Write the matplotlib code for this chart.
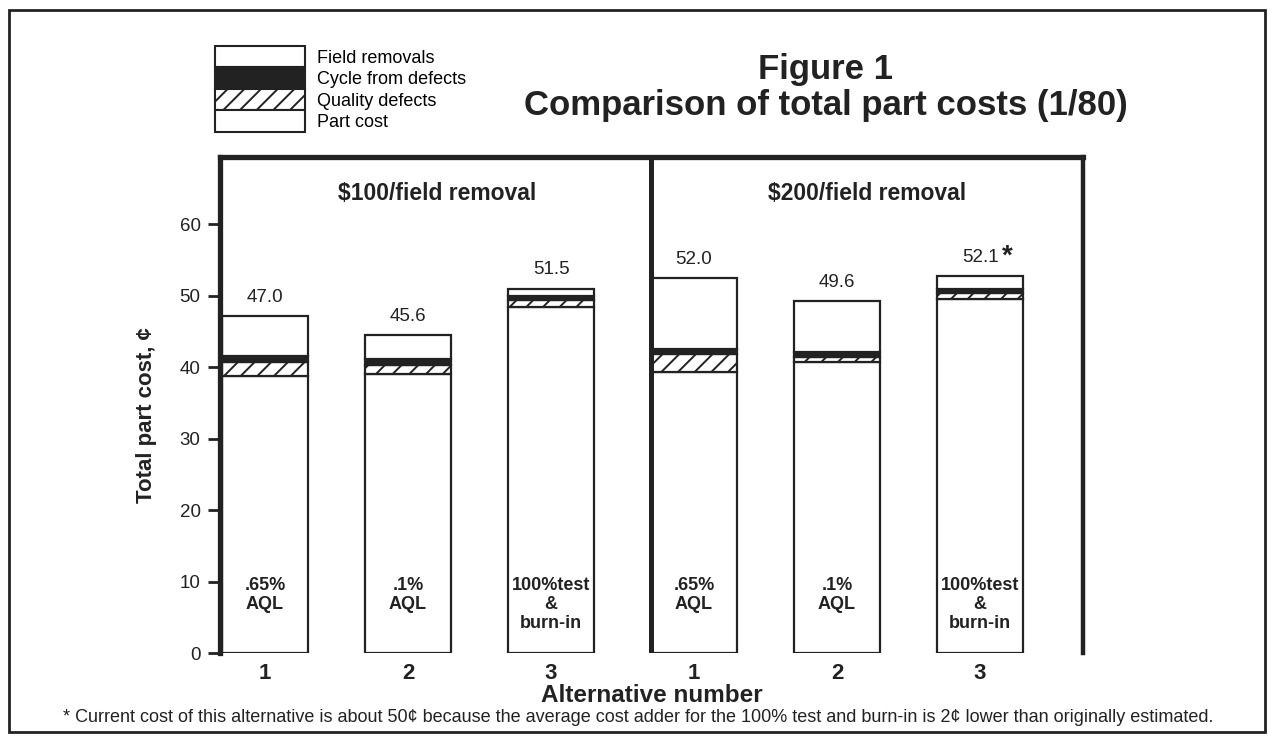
import matplotlib.pyplot as plt
from matplotlib.patches import Patch, Rectangle
import numpy as np

# Comparison of total part costs (1/80) - stacked bars, two panels
plt.rcParams['font.family'] = ['Liberation Sans', 'DejaVu Sans']
plt.rcParams['hatch.linewidth'] = 1.4

ink = '#222222'

alternatives = ['1', '2', '3', '1', '2', '3']
bar_notes = ['.65%\nAQL', '.1%\nAQL', '100%test\n&\nburn-in',
             '.65%\nAQL', '.1%\nAQL', '100%test\n&\nburn-in']
total_labels = ['47.0', '45.6', '51.5', '52.0', '49.6', '52.1']
total_marks = ['', '', '', '', '', '*']
panels = ['$100/field removal', '$200/field removal']

# segment values (cents)
part_cost = [38.7, 39.1, 48.4, 39.3, 40.7, 49.5]
quality_defects = [2.0, 1.2, 1.0, 2.5, 0.7, 0.9]
cycle_defects = [0.9, 0.8, 0.6, 0.8, 0.7, 0.6]
field_removals = [5.6, 3.4, 1.0, 9.9, 7.1, 1.8]

x = np.arange(len(alternatives))
W, H = 1268, 736

fig = plt.figure(figsize=(W / 100, H / 100), dpi=100)
ax = fig.add_axes([220 / W, 83 / H, 863 / W, 496 / H])

w = 0.6
common = dict(width=w, edgecolor=ink, linewidth=1.6)
ax.bar(x, part_cost, color='white', **common)
b1 = np.array(part_cost)
ax.bar(x, quality_defects, bottom=b1, color='white', hatch='//', **common)
b2 = b1 + quality_defects
ax.bar(x, cycle_defects, bottom=b2, color=ink, **common)
b3 = b2 + cycle_defects
ax.bar(x, field_removals, bottom=b3, color='white', **common)
tops = b3 + field_removals

for xi, top, lab, mark in zip(x, tops, total_labels, total_marks):
    ax.text(xi, top + 2.6, lab, ha='center', va='center', fontsize=13.5, color=ink)
    if mark:
        ax.text(xi + 0.15, top + 2.7, mark, ha='left', va='center',
                fontsize=20, fontweight='bold', color=ink)

for xi, note in zip(x, bar_notes):
    ax.text(xi, 10.6, note, ha='center', va='top', fontsize=13,
            fontweight='bold', linespacing=1.15, color=ink)

# panel divider and headings
ax.axvline(2.7, color=ink, linewidth=3.6)
ax.text(1.2, 64.3, panels[0].replace('$', r'\$'), ha='center', va='center',
        fontsize=16.5, fontweight='bold', color=ink)
ax.text(4.21, 64.3, panels[1].replace('$', r'\$'), ha='center', va='center',
        fontsize=16.5, fontweight='bold', color=ink)

ax.set_xlim(-0.315, 5.72)
ax.set_ylim(0, 69.4)
ax.set_yticks(range(0, 61, 10))
ax.set_xticks(x)
ax.set_xticklabels(alternatives, fontsize=16, fontweight='bold', color=ink)
ax.tick_params(axis='x', length=0, pad=7)
ax.tick_params(axis='y', direction='out', length=9, width=2, labelsize=13.5,
               pad=5, colors=ink)

for side in ['left', 'top']:
    ax.spines[side].set_linewidth(3.8)
    ax.spines[side].set_color(ink)
ax.spines['right'].set_linewidth(3.2)
ax.spines['right'].set_color(ink)
ax.spines['bottom'].set_visible(False)

ax.set_xlabel('Alternative number', fontsize=17.5, fontweight='bold',
              color=ink, labelpad=0)
ax.set_ylabel('Total part cost, \u00a2', fontsize=16, fontweight='bold', color=ink)
ax.yaxis.set_label_coords(-0.073, 0.48)

# legend stack in the upper left
handles = [
    Patch(facecolor='white', edgecolor=ink, linewidth=1.5),
    Patch(facecolor=ink, edgecolor=ink, linewidth=1.5),
    Patch(facecolor='white', edgecolor=ink, linewidth=1.5, hatch='//'),
    Patch(facecolor='white', edgecolor=ink, linewidth=1.5),
]
labels = ['Field removals', 'Cycle from defects', 'Quality defects', 'Part cost']
fig.legend(handles, labels, loc='upper left', bbox_to_anchor=(215 / W, 1 - 46 / H),
           frameon=False, fontsize=13, labelspacing=0, handleheight=1.45,
           handlelength=5.0, handletextpad=0.65, borderpad=0, borderaxespad=0)

fig.text(826 / W, 1 - 69 / H, 'Figure 1', ha='center', va='center',
         fontsize=25, fontweight='bold', color=ink)
fig.text(826 / W, 1 - 106 / H, 'Comparison of total part costs (1/80)',
         ha='center', va='center', fontsize=25, fontweight='bold', color=ink)

fig.text(63 / W, 1 - 717 / H,
         '* Current cost of this alternative is about 50\u00a2 because the average cost '
         'adder for the 100% test and burn-in is 2\u00a2 lower than originally estimated.',
         ha='left', va='center', fontsize=13, color=ink)

# outer frame
fig.patches.append(Rectangle((9 / W, 4 / H), 1256 / W, 722 / H, transform=fig.transFigure,
                             fill=False, edgecolor=ink, linewidth=2))

fig.savefig('out.png', dpi=100, facecolor='white')
